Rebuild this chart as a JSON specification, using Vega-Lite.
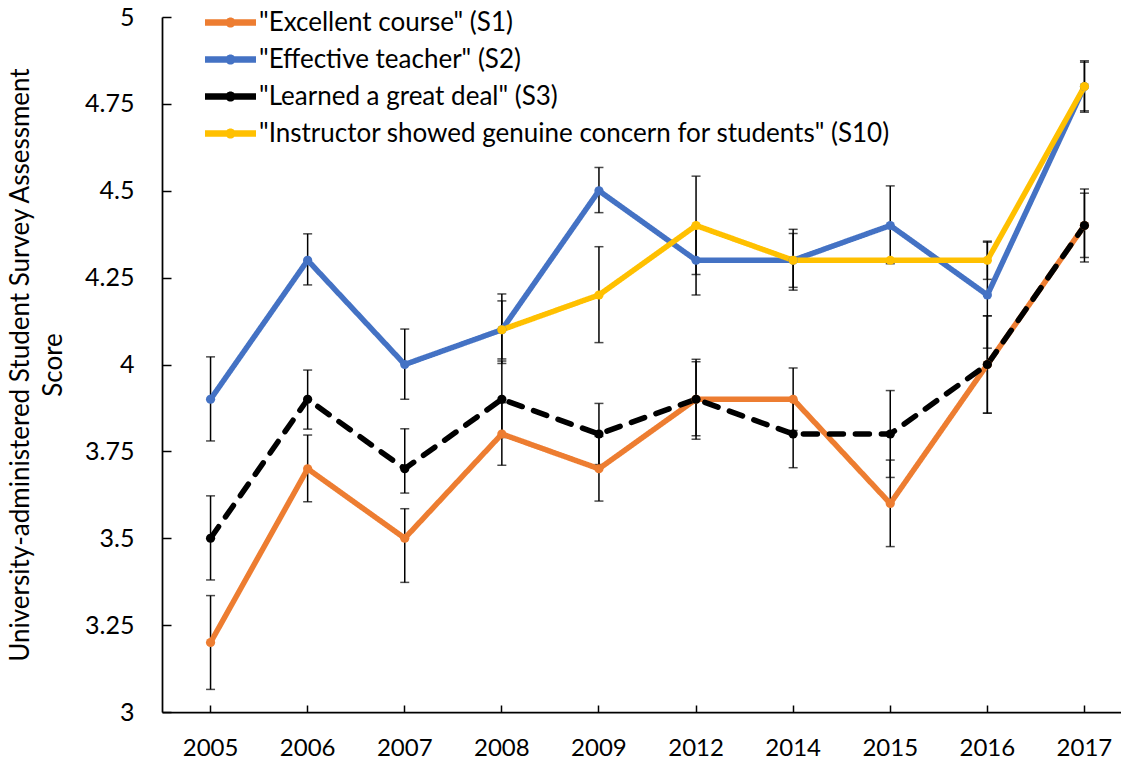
{
  "$schema": "https://vega.github.io/schema/vega-lite/v6.json",
  "width": 971,
  "height": 695,
  "autosize": {"type": "none"},
  "padding": {"left": 162, "top": 17, "right": 0, "bottom": 49},
  "background": "white",
  "config": {
    "view": {"stroke": null},
    "font": "Lato",
    "axis": {"labelFont": "Lato", "titleFont": "Lato", "labelColor": "#000", "titleColor": "#000", "domainColor": "#000", "tickColor": "#000", "grid": false, "labelFontSize": 25, "titleFontSize": 26, "titleFontWeight": "normal", "domainWidth": 1.75, "tickWidth": 1.5}
  },
  "data": {"values": [
    {"series": "S1", "year": "2005", "score": 3.2, "lo": 3.065, "hi": 3.335},
    {"series": "S1", "year": "2006", "score": 3.7, "lo": 3.605, "hi": 3.797},
    {"series": "S1", "year": "2007", "score": 3.5, "lo": 3.373, "hi": 3.585},
    {"series": "S1", "year": "2008", "score": 3.8, "lo": 3.71, "hi": 3.89},
    {"series": "S1", "year": "2009", "score": 3.7, "lo": 3.607, "hi": 3.793},
    {"series": "S1", "year": "2012", "score": 3.9, "lo": 3.785, "hi": 4.015},
    {"series": "S1", "year": "2014", "score": 3.9, "lo": 3.81, "hi": 3.99},
    {"series": "S1", "year": "2015", "score": 3.6, "lo": 3.476, "hi": 3.725},
    {"series": "S1", "year": "2016", "score": 4.0, "lo": 3.86, "hi": 4.14},
    {"series": "S1", "year": "2017", "score": 4.4, "lo": 4.295, "hi": 4.505},
    {"series": "S2", "year": "2005", "score": 3.9, "lo": 3.78, "hi": 4.022},
    {"series": "S2", "year": "2006", "score": 4.3, "lo": 4.229, "hi": 4.376},
    {"series": "S2", "year": "2007", "score": 4.0, "lo": 3.9, "hi": 4.102},
    {"series": "S2", "year": "2008", "score": 4.1, "lo": 4.003, "hi": 4.203},
    {"series": "S2", "year": "2009", "score": 4.5, "lo": 4.437, "hi": 4.567},
    {"series": "S2", "year": "2012", "score": 4.3, "lo": 4.2, "hi": 4.4},
    {"series": "S2", "year": "2014", "score": 4.3, "lo": 4.214, "hi": 4.389},
    {"series": "S2", "year": "2015", "score": 4.4, "lo": 4.29, "hi": 4.514},
    {"series": "S2", "year": "2016", "score": 4.2, "lo": 4.047, "hi": 4.352},
    {"series": "S2", "year": "2017", "score": 4.8, "lo": 4.726, "hi": 4.874},
    {"series": "S3", "year": "2005", "score": 3.5, "lo": 3.38, "hi": 3.622},
    {"series": "S3", "year": "2006", "score": 3.9, "lo": 3.814, "hi": 3.984},
    {"series": "S3", "year": "2007", "score": 3.7, "lo": 3.63, "hi": 3.815},
    {"series": "S3", "year": "2008", "score": 3.9, "lo": 3.79, "hi": 4.01},
    {"series": "S3", "year": "2009", "score": 3.8, "lo": 3.712, "hi": 3.888},
    {"series": "S3", "year": "2012", "score": 3.9, "lo": 3.795, "hi": 4.008},
    {"series": "S3", "year": "2014", "score": 3.8, "lo": 3.703, "hi": 3.897},
    {"series": "S3", "year": "2015", "score": 3.8, "lo": 3.675, "hi": 3.925},
    {"series": "S3", "year": "2016", "score": 4.0, "lo": 3.86, "hi": 4.14},
    {"series": "S3", "year": "2017", "score": 4.4, "lo": 4.308, "hi": 4.493},
    {"series": "S10", "year": "2008", "score": 4.1, "lo": 4.016, "hi": 4.183},
    {"series": "S10", "year": "2009", "score": 4.2, "lo": 4.063, "hi": 4.339},
    {"series": "S10", "year": "2012", "score": 4.4, "lo": 4.259, "hi": 4.542},
    {"series": "S10", "year": "2014", "score": 4.3, "lo": 4.222, "hi": 4.377},
    {"series": "S10", "year": "2015", "score": 4.3, "lo": 4.3, "hi": 4.3},
    {"series": "S10", "year": "2016", "score": 4.3, "lo": 4.245, "hi": 4.355},
    {"series": "S10", "year": "2017", "score": 4.8, "lo": 4.73, "hi": 4.87}
  ]},
  "encoding": {
    "x": {"field": "year", "type": "ordinal", "scale": {"type": "band", "paddingInner": 0, "paddingOuter": 0},
      "axis": {"title": null, "labelAngle": 0, "tickSize": -7, "labelPadding": 31, "labelFontSize": 24}}
  },
  "layer": [
    {
      "mark": {"type": "rule", "color": "#000", "strokeWidth": 1.5},
      "encoding": {
        "y": {"field": "lo", "type": "quantitative"},
        "y2": {"field": "hi"}
      }
    },
    {
      "mark": {"type": "tick", "color": "#000", "thickness": 1.5, "size": 9, "orient": "horizontal"},
      "encoding": {"y": {"field": "hi", "type": "quantitative"}}
    },
    {
      "mark": {"type": "tick", "color": "#000", "thickness": 1.5, "size": 9, "orient": "horizontal"},
      "encoding": {"y": {"field": "lo", "type": "quantitative"}}
    },
    {
      "mark": {"type": "line", "strokeWidth": 5.5, "strokeCap": "round", "strokeJoin": "round"},
      "encoding": {
        "y": {"field": "score", "type": "quantitative",
          "scale": {"domain": [3, 5], "nice": false, "zero": false},
          "axis": {"values": [3, 3.25, 3.5, 3.75, 4, 4.25, 4.5, 4.75, 5], "format": ".2~f", "tickSize": -9, "labelPadding": 37,
            "title": ["University-administered Student Survey Assessment", "Score"], "titlePadding": 18, "titleLineHeight": 33}},
        "color": {"field": "series", "type": "nominal",
          "scale": {"domain": ["S1", "S2", "S3", "S10"], "range": ["#ED7D31", "#4472C4", "#000000", "#FFC000"]},
          "legend": {
            "orient": "none", "legendX": 43, "legendY": -13, "title": null,
            "labelExpr": "datum.value == 'S1' ? '\"Excellent course\" (S1)' : datum.value == 'S2' ? '\"Effective teacher\" (S2)' : datum.value == 'S3' ? '\"Learned a great deal\" (S3)' : '\"Instructor showed genuine concern for students\" (S10)'",
            "labelFont": "Lato", "labelFontSize": 26, "labelColor": "#000", "labelLimit": 800,
            "symbolType": "M-1,-0.125H1V0.125H-1Z M-0.2,0A0.2,0.2 0 1,1 0.2,0A0.2,0.2 0 1,1 -0.2,0Z",
            "symbolSize": 2601, "symbolStrokeWidth": 0, "rowPadding": 0, "clipHeight": 37, "labelOffset": 3,
            "encode": {"symbols": {"update": {"fill": {"scale": "color", "field": "value"}, "strokeWidth": {"value": 0}}}}
          }
        },
        "strokeDash": {"field": "series", "type": "nominal",
          "scale": {"domain": ["S1", "S2", "S3", "S10"], "range": [[1, 0], [1, 0], [14, 12], [1, 0]]}, "legend": null}
      }
    },
    {
      "mark": {"type": "point", "filled": true, "size": 85, "opacity": 1},
      "encoding": {
        "y": {"field": "score", "type": "quantitative"},
        "color": {"field": "series", "type": "nominal"}
      }
    }
  ]
}
